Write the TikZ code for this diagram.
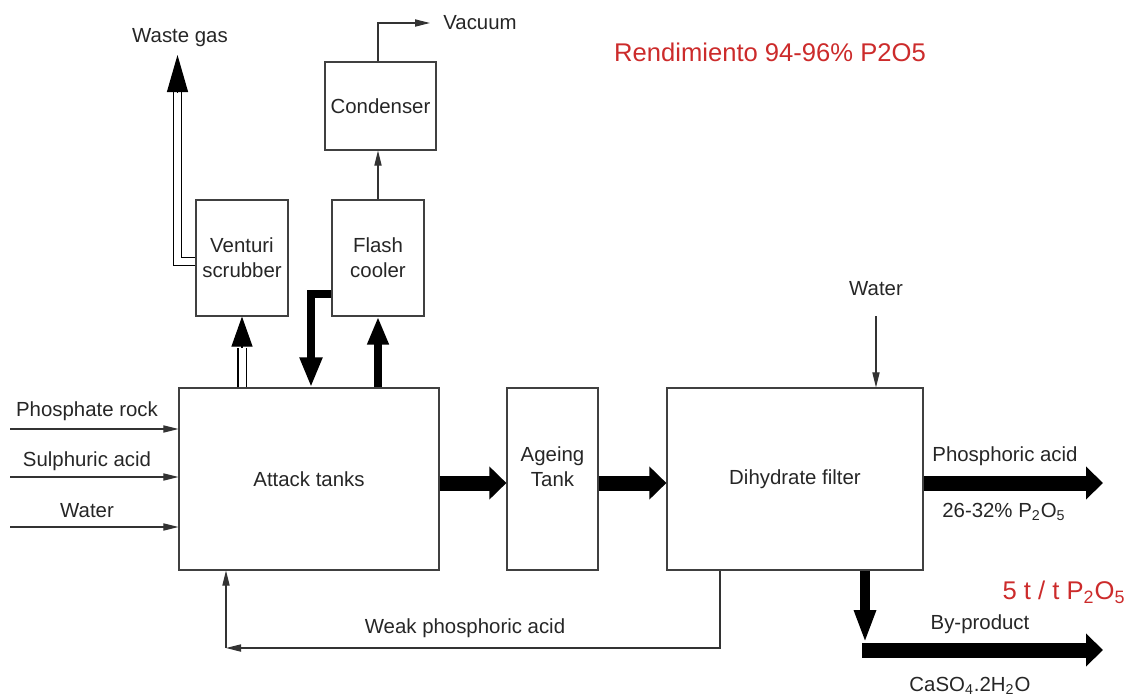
\documentclass[tikz,border=0pt]{standalone}
\usepackage{fontspec}
\setmainfont{Liberation Sans}
\usepackage{xcolor}
\usepackage{tikz}
\usetikzlibrary{arrows.meta}
\definecolor{yieldRed}{HTML}{CC2B2B}

\begin{document}
\begin{tikzpicture}[x=0.5pt, y=-0.5pt, font=\fontsize{10.2}{12.5}\selectfont, >=Stealth,
  unit/.style={draw=black!75, line width=0.6pt, align=center, inner sep=0pt, text=black!85},
  lbl/.style={inner sep=0pt, text=black!85},
  feed/.style={draw=black!80, line width=0.55pt, -{Triangle[length=7.5pt,width=3.6pt]}},
  bigflow/.style={line width=7.5pt, -{Triangle[length=8.5pt,width=16pt]}},
  midflow/.style={line width=4pt, line join=miter, -{Triangle[length=15pt,width=10.5pt]}},
  gasline/.style={draw=black, double=white, double distance=3.5pt, line width=0.55pt},
  gastip/.style={line width=0.55pt, -{Triangle[length=#1,width=10.5pt]}},
  gastip/.default=15pt,
  yield/.style={inner sep=0pt, text=yieldRed, font=\fontsize{12.8}{15}\selectfont}]
\useasboundingbox (0,0) rectangle (1126,697);

% ---------- process units ----------
\node[unit, minimum width=130pt, minimum height=91pt] (attack) at (309,479) {Attack tanks};
\node[unit, minimum width=45.5pt, minimum height=91pt] (ageing) at (552.5,479) {Ageing\\Tank\\\mbox{}};
\node[unit, minimum width=128pt, minimum height=91pt] (filter) at (795,479) {Dihydrate filter};
\node[unit, minimum width=46pt, minimum height=58pt] (venturi) at (242,258) {Venturi\\scrubber};
\node[unit, minimum width=46pt, minimum height=58pt] (flash) at (378,258) {Flash\\cooler};
\node[unit, minimum width=55.5pt, minimum height=44pt] (condenser) at (380.5,106) {Condenser};

% ---------- stream labels ----------
\node[lbl] (wastelbl) at (180,38) {Waste gas};
\node[lbl] (vaclbl) at (480,23) {Vacuum};
\node[yield] (yieldlbl) at (770,52) {Rendimiento 94-96\% P2O5};
\node[lbl] (filtwaterlbl) at (876,289) {Water};
\node[lbl] (rocklbl) at (87,411) {Phosphate rock};
\node[lbl] (sulphlbl) at (87,461) {Sulphuric acid};
\node[lbl] (waterlbl) at (87,511) {Water};
\node[lbl] (acidlbl) at (1005,456) {Phosphoric acid};
\node[lbl] (conclbl) at (1004,512) {26-32\% P\textsubscript{2}O\textsubscript{5}};
\node[yield] (ratiolbl) at (1064,592) {5 t / t P\textsubscript{2}O\textsubscript{5}};
\node[lbl] (bylbl) at (980,624) {By-product};
\node[lbl] (gypslbl) at (970,686) {CaSO\textsubscript{4}.2H\textsubscript{2}O};
\node[lbl] (weaklbl) at (465,628) {Weak phosphoric acid};

% free ends
\coordinate (rockin) at (10,429);
\coordinate (sulphin) at (10,477);
\coordinate (waterin) at (10,527);
\coordinate (wastebase) at (177.5,92);
\coordinate (wastetip) at (177.5,55);
\coordinate (scrubbase) at (242,348);
\coordinate (vactip) at (430,23);
\coordinate (filterwater) at (876,316);
\coordinate (acidout) at (1103,483);
\coordinate (gypdrop) at (865,643);
\coordinate (gypstart) at (862,650);
\coordinate (gypout) at (1103,650);
\coordinate (weakcorner) at (226,648);

% ---------- feeds ----------
\draw[feed] (rockin) -- (rockin -| attack.west);
\draw[feed] (sulphin) -- (sulphin -| attack.west);
\draw[feed] (waterin) -- (waterin -| attack.west);

% ---------- gas side ----------
\draw[gasline] ([yshift=-1.75pt]venturi.west) -| (wastebase);
\draw[gastip=18.5pt] (wastebase) -- (wastetip);
\draw[gasline] (scrubbase |- attack.north) -- (scrubbase);
\draw[gastip] (scrubbase) -- (scrubbase |- venturi.south);
\draw[midflow] ([yshift=-18pt]flash.west) -| ([xshift=1pt]attack.north);
\draw[midflow, line width=3.7pt, -{Triangle[length=14pt,width=10pt]}] (flash.south |- attack.north) -- (flash.south);
\draw[feed] (flash.north) -- (flash.north |- condenser.south);
\draw[feed] (condenser.north -| flash.north) |- (vactip);

% ---------- main line ----------
\draw[bigflow] ([yshift=-2pt]attack.east) -- ([yshift=-2pt]ageing.west);
\draw[bigflow] ([yshift=-2pt]ageing.east) -- ([yshift=-2pt]filter.west);
\draw[feed] (filterwater) -- (filterwater |- filter.north);
\draw[bigflow] ([yshift=-2pt]filter.east) -- (acidout);
\draw[line width=5pt, -{Triangle[length=16.5pt,width=10pt]}] (filter.south -| gypdrop) -- (gypdrop);
\draw[bigflow] (gypstart) -- (gypout);

% recycle
\draw[feed] ([xshift=-37.5pt]filter.south) |- (weakcorner);
\draw[feed] (weakcorner) -- (weakcorner |- attack.south);
\end{tikzpicture}
\end{document}
